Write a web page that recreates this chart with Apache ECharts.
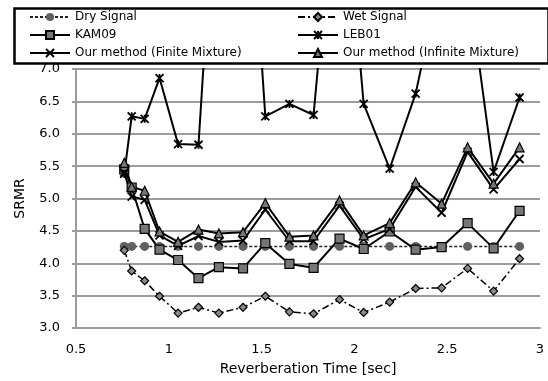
<!DOCTYPE html>
<html>
<head>
<meta charset="utf-8">
<script src="https://cdn.jsdelivr.net/npm/echarts@6/dist/echarts.min.js"></script>
<style>html,body{margin:0;padding:0;background:#fff;}#c{width:548px;height:381px;}</style>
</head>
<body>
<div id="c"></div>
<script>
// Reverberation times (sec)
const rt = [0.76, 0.80, 0.87, 0.95, 1.05, 1.16, 1.27, 1.40, 1.52, 1.65, 1.78, 1.92, 2.05, 2.19, 2.33, 2.47, 2.61, 2.75, 2.89];
const drySignal = [4.26, 4.26, 4.26, 4.26, 4.26, 4.26, 4.26, 4.26, 4.26, 4.26, 4.26, 4.26, 4.26, 4.26, 4.26, 4.26, 4.26, 4.26, 4.26];
const wetSignal = [4.20, 3.88, 3.73, 3.49, 3.23, 3.32, 3.23, 3.32, 3.49, 3.25, 3.22, 3.44, 3.24, 3.40, 3.61, 3.62, 3.92, 3.57, 4.07];
const kam09 = [5.45, 5.17, 4.53, 4.21, 4.05, 3.77, 3.94, 3.92, 4.31, 3.99, 3.93, 4.38, 4.22, 4.49, 4.21, 4.25, 4.62, 4.23, 4.81];
const leb01 = [5.38, 6.27, 6.23, 6.86, 5.84, 5.83, 10.8, 11.4, 6.27, 6.46, 6.29, 10.7, 6.46, 5.46, 6.62, 8.5, 8.4, 5.41, 6.56];
const finiteMix = [5.40, 5.03, 4.98, 4.43, 4.27, 4.42, 4.33, 4.35, 4.83, 4.34, 4.34, 4.89, 4.37, 4.53, 5.18, 4.78, 5.72, 5.14, 5.61];
const infiniteMix = [5.55, 5.18, 5.12, 4.49, 4.33, 4.52, 4.46, 4.48, 4.93, 4.41, 4.43, 4.97, 4.43, 4.62, 5.25, 4.92, 5.79, 5.23, 5.79];
const seriesNames = ['Dry Signal', 'Wet Signal', 'KAM09', 'LEB01', 'Our method (Finite Mixture)', 'Our method (Infinite Mixture)'];
const xTicks = [0.5, 1, 1.5, 2, 2.5, 3];
const yTicks = [3.0, 3.5, 4.0, 4.5, 5.0, 5.5, 6.0, 6.5, 7.0];

const FONT = 'DejaVu Sans';
const pair = arr => arr.map((v, i) => [rt[i], v]);
const asterisk = 'path://M0,0L10,10M10,0L0,10M5,0L5,10';
const cross = 'path://M0,0L10,10M10,0L0,10';

const legendBase = {
  orient: 'vertical', top: 11, itemGap: 6, itemWidth: 40, itemHeight: 10, padding: 0,
  textStyle: {fontFamily: FONT, fontSize: 12, lineHeight: 12, color: '#000'},
  selectedMode: false
};

const chart = echarts.init(document.getElementById('c'), null, {renderer: 'canvas'});
const option = {
  animation: false,
  backgroundColor: '#fff',
  grid: {left: 76, right: 8, top: 69, bottom: 52, containLabel: false},
  legend: [
    Object.assign({}, legendBase, {data: [seriesNames[0], seriesNames[2], seriesNames[4]], left: 29}),
    Object.assign({}, legendBase, {data: [seriesNames[1], seriesNames[3], seriesNames[5]], left: 297})
  ],
  graphic: [{
    type: 'rect', left: 12, top: 6, z: 100,
    shape: {width: 534, height: 55},
    style: {fill: 'none', stroke: '#000', lineWidth: 2.5}
  }],
  xAxis: {
    type: 'value', min: xTicks[0], max: xTicks[xTicks.length - 1], interval: 0.5,
    name: 'Reverberation Time [sec]', nameLocation: 'middle', nameGap: 34,
    nameTextStyle: {fontFamily: FONT, fontSize: 14, color: '#000'},
    axisLine: {show: true, onZero: false, lineStyle: {color: '#9c9c9c', width: 2}},
    axisTick: {show: false},
    splitLine: {show: false},
    axisLabel: {fontFamily: FONT, fontSize: 13, color: '#000', margin: 15}
  },
  yAxis: {
    type: 'value', min: yTicks[0], max: yTicks[yTicks.length - 1], interval: 0.5,
    name: 'SRMR', nameLocation: 'middle', nameGap: 49,
    nameTextStyle: {fontFamily: FONT, fontSize: 14, color: '#000'},
    axisLine: {show: true, lineStyle: {color: '#9c9c9c', width: 2}},
    axisTick: {show: true, length: 4, lineStyle: {color: '#9c9c9c', width: 2}},
    splitLine: {show: true, lineStyle: {color: '#9c9c9c', width: 2}},
    axisLabel: {fontFamily: FONT, fontSize: 13, color: '#000', margin: 16,
      formatter: v => v.toFixed(1)}
  },
  series: [
    {
      name: seriesNames[0], type: 'line', data: pair(drySignal),
      symbol: 'circle', symbolSize: 9,
      lineStyle: {color: '#222', width: 1.5, type: [3, 2]},
      itemStyle: {color: '#606060', borderWidth: 0}
    },
    {
      name: seriesNames[1], type: 'line', data: pair(wetSignal),
      symbol: 'diamond', symbolSize: 8,
      lineStyle: {color: '#000', width: 1.5, type: [7, 3, 2, 3]},
      itemStyle: {color: '#8a8a8a', borderColor: '#000', borderWidth: 1.2}
    },
    {
      name: seriesNames[2], type: 'line', data: pair(kam09),
      symbol: 'rect', symbolSize: 9,
      lineStyle: {color: '#000', width: 2},
      itemStyle: {color: '#777', borderColor: '#000', borderWidth: 1.2}
    },
    {
      name: seriesNames[3], type: 'line', data: pair(leb01),
      symbol: asterisk, symbolSize: 8,
      lineStyle: {color: '#000', width: 2},
      itemStyle: {color: '#000', borderColor: '#000', borderWidth: 1.8}
    },
    {
      name: seriesNames[4], type: 'line', data: pair(finiteMix),
      symbol: cross, symbolSize: 8,
      lineStyle: {color: '#000', width: 2},
      itemStyle: {color: '#000', borderColor: '#000', borderWidth: 1.8}
    },
    {
      name: seriesNames[5], type: 'line', data: pair(infiniteMix),
      symbol: 'triangle', symbolSize: 9,
      lineStyle: {color: '#000', width: 2},
      itemStyle: {color: '#777', borderColor: '#000', borderWidth: 1.2}
    }
  ]
};
chart.setOption(option);
</script>
</body>
</html>
